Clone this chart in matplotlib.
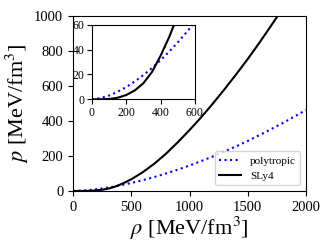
import matplotlib
matplotlib.use("Agg")
import matplotlib.pyplot as plt

plt.rcParams['font.family'] = 'serif'
plt.rcParams['font.serif'] = ['Liberation Serif', 'DejaVu Serif']
plt.rcParams['mathtext.fontset'] = 'stix'

# polytropic EoS
rho_poly = [0, 50, 100, 150, 200, 250, 300, 350, 400, 450, 500, 550, 600, 700, 800, 900,
            1000, 1100, 1200, 1300, 1400, 1500, 1600, 1700, 1800, 1900, 2000]
p_poly = [0, 0.98, 3.1, 6.1, 9.9, 14.4, 19.5, 25.2, 31.5, 38.3, 45.7, 53.6, 62.0, 80.2, 100.3, 122,
          145.5, 171, 197, 226, 255, 286, 319, 353, 388, 425, 463]

# SLy4 EoS
rho_sly = [0, 50, 100, 150, 200, 250, 300, 350, 400, 450, 476, 500, 550, 600, 700, 800, 900,
           1000, 1100, 1200, 1300, 1400, 1500, 1600, 1700, 1750, 1800, 2000]
p_sly = [0, 0.02, 0.3, 1.3, 3.5, 7.2, 13, 22, 35, 50, 59, 67, 87, 108, 157, 214, 279,
         348, 421, 499, 581, 666, 754, 847, 944, 994, 1050, 1270]

fig = plt.figure(figsize=(3.32, 2.49), dpi=100)
ax = fig.add_axes([0.22, 0.233, 0.7017, 0.703])
ax.plot(rho_poly, p_poly, 'b:', lw=1.5, label='polytropic')
ax.plot(rho_sly, p_sly, 'k-', lw=1.5, label='SLy4')
ax.set_xlim(0, 2000)
ax.set_ylim(0, 1000)
ax.set_xticks([0, 500, 1000, 1500, 2000])
ax.set_yticks([0, 200, 400, 600, 800, 1000])
ax.tick_params(labelsize=10.5)
ax.set_xlabel(r'$\rho$ [MeV/fm$^3$]', fontsize=16, labelpad=1)
ax.set_ylabel(r'$p$ [MeV/fm$^3$]', fontsize=16, labelpad=2)
ax.legend(loc='lower right', fontsize=8, handlelength=2.0)

ins = fig.add_axes([0.277, 0.601, 0.310, 0.300])
ins.plot(rho_poly, p_poly, 'b:', lw=1.5)
ins.plot(rho_sly, p_sly, 'k-', lw=1.5)
ins.set_xlim(0, 600)
ins.set_ylim(0, 60)
ins.set_xticks([0, 200, 400, 600])
ins.set_yticks([0, 20, 40, 60])
ins.tick_params(labelsize=8.5, pad=2)

fig.savefig('out.png', dpi=100)
